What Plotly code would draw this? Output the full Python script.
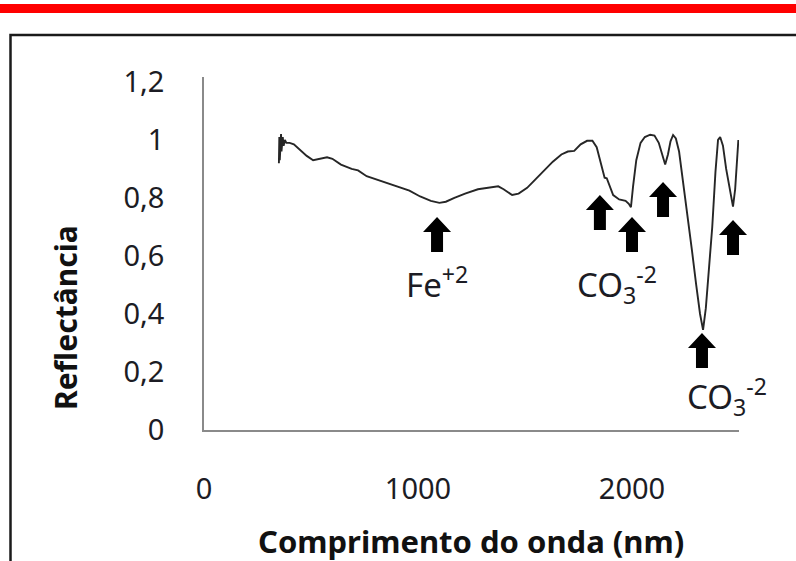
import plotly.graph_objects as go

# ---- data ----
wavelength_nm = [350, 352, 354, 356, 358, 360, 362, 364, 366, 368, 372, 378, 385, 400, 420, 450,
                 480, 510, 540, 575, 600, 640, 690, 720, 760, 820, 900, 960, 1010, 1060, 1100,
                 1130, 1170, 1220, 1280, 1340, 1375, 1400, 1440, 1470, 1510, 1550, 1590, 1630,
                 1670, 1700, 1730, 1760, 1790, 1815, 1835, 1850, 1862, 1872, 1882, 1895, 1912,
                 1940, 1970, 1985, 1995, 2005, 2020, 2040, 2060, 2085, 2105, 2125, 2140, 2155,
                 2168, 2180, 2192, 2205, 2220, 2240, 2260, 2280, 2300, 2318, 2332, 2345, 2360,
                 2375, 2390, 2402, 2412, 2425, 2440, 2458, 2472, 2482, 2490, 2497]
reflectance = [0.92, 1.01, 0.93, 1.0, 0.95, 1.02, 0.96, 1.0, 0.97, 1.01, 0.98, 1.0, 0.99, 0.99,
               0.985, 0.965, 0.945, 0.93, 0.935, 0.94, 0.935, 0.915, 0.90, 0.895, 0.875, 0.86,
               0.84, 0.825, 0.805, 0.79, 0.783, 0.787, 0.80, 0.815, 0.83, 0.835, 0.84, 0.83,
               0.81, 0.815, 0.835, 0.865, 0.895, 0.925, 0.95, 0.96, 0.962, 0.985, 0.997, 0.997,
               0.975, 0.93, 0.89, 0.87, 0.868, 0.84, 0.81, 0.795, 0.79, 0.78, 0.768, 0.84, 0.93,
               0.99, 1.01, 1.018, 1.015, 0.99, 0.95, 0.915, 0.95, 0.995, 1.017, 1.005, 0.96,
               0.85, 0.74, 0.62, 0.5, 0.4, 0.345, 0.42, 0.56, 0.7, 0.89, 1.0, 1.01, 0.98, 0.9,
               0.82, 0.77, 0.83, 0.93, 1.0]

# absorption-feature arrows (tip position)
arrow_nm = [1089, 1850, 2000, 2145, 2472, 2327]
arrow_tip = [0.734, 0.81, 0.734, 0.855, 0.724, 0.334]

# feature labels
label_text = ["Fe<sup>+2</sup>", "CO<sub>3</sub><sup>-2</sup>", "CO<sub>3</sub><sup>-2</sup>"]
label_nm = [1089, 1930, 2444]
label_r = [0.51, 0.50, 0.117]

x_range = [0, 2500]
y_range = [0, 1.217]
x_tickvals = [0, 1000, 2000]
x_ticktext = ["0", "1000", "2000"]
y_tickvals = [0, 0.2, 0.4, 0.6, 0.8, 1.0, 1.2]
y_ticktext = ["0", "0,2", "0,4", "0,6", "0,8", "1", "1,2"]

x_title = "Comprimento do onda (nm)"
y_title = "Reflectância"

# ---- layout geometry ----
W, H = 796, 561
L, R, T, B = 204, 57, 77, 131
PW, PH = W - L - R, H - T - B

def px_x(p):
    return (p - L) / PW

def px_y(p):
    return (H - B - p) / PH

def data_to_paper_x(v):
    return (v - x_range[0]) / (x_range[1] - x_range[0])

def data_to_paper_y(v):
    return (v - y_range[0]) / (y_range[1] - y_range[0])

FONT = "Noto Sans"
TXT = "#1c1c24"

fig = go.Figure()
fig.add_trace(go.Scatter(x=wavelength_nm, y=reflectance, mode="lines",
                         line=dict(color="#262626", width=1.9), hoverinfo="skip"))

shapes = []
# red bar at top
shapes.append(dict(type="rect", xref="paper", yref="paper",
                   x0=px_x(-5), x1=px_x(W + 5), y0=px_y(4), y1=px_y(13),
                   fillcolor="#ff0000", line=dict(width=0), layer="below"))
# black frame
shapes.append(dict(type="rect", xref="paper", yref="paper",
                   x0=px_x(10.5), x1=px_x(W + 20), y0=px_y(35), y1=px_y(H + 20),
                   fillcolor="rgba(0,0,0,0)", line=dict(color="#1a1a1a", width=2.5), layer="below"))

# block arrows (anchored at tip, sized in pixels; paper refs so they are not clipped)
arrow_path = "M0,0 L-14,-15 L-6,-15 L-6,-35 L6,-35 L6,-15 L14,-15 Z"
for xn, yt in zip(arrow_nm, arrow_tip):
    shapes.append(dict(type="path", xref="paper", yref="paper", xsizemode="pixel", ysizemode="pixel",
                       xanchor=data_to_paper_x(xn), yanchor=data_to_paper_y(yt), path=arrow_path,
                       fillcolor="#000000", line=dict(width=0)))

annotations = []
for t, xn, yr in zip(label_text, label_nm, label_r):
    annotations.append(dict(text=t, x=xn, y=yr, xref="x", yref="y", showarrow=False,
                            xanchor="center", yanchor="middle",
                            font=dict(family=FONT, size=33, color=TXT)))
annotations.append(dict(text="<b>" + y_title + "</b>", x=px_x(65), y=px_y(318), xref="paper",
                        yref="paper", showarrow=False, textangle=-90, xanchor="center",
                        yanchor="middle", font=dict(family=FONT, size=30, color="#111111")))
annotations.append(dict(text="<b>" + x_title + "</b>", x=px_x(471), y=px_y(541), xref="paper",
                        yref="paper", showarrow=False, xanchor="center", yanchor="middle",
                        font=dict(family=FONT, size=31, color="#111111")))

fig.update_layout(
    width=W, height=H, margin=dict(l=L, r=R, t=T, b=B, autoexpand=False),
    paper_bgcolor="white", plot_bgcolor="white", showlegend=False,
    shapes=shapes, annotations=annotations,
    xaxis=dict(range=x_range, tickvals=x_tickvals, ticktext=x_ticktext, showgrid=False,
               zeroline=False, showline=True, linecolor="#8a8a8a", linewidth=1.5,
               ticks="", ticklabelstandoff=32,
               tickfont=dict(family=FONT, size=29, color=TXT)),
    yaxis=dict(range=y_range, tickvals=y_tickvals, ticktext=y_ticktext, showgrid=False,
               zeroline=False, showline=True, linecolor="#8a8a8a", linewidth=1.5,
               ticks="", ticklabelstandoff=32,
               tickfont=dict(family=FONT, size=29, color=TXT)),
)

fig.write_html("out.html")
